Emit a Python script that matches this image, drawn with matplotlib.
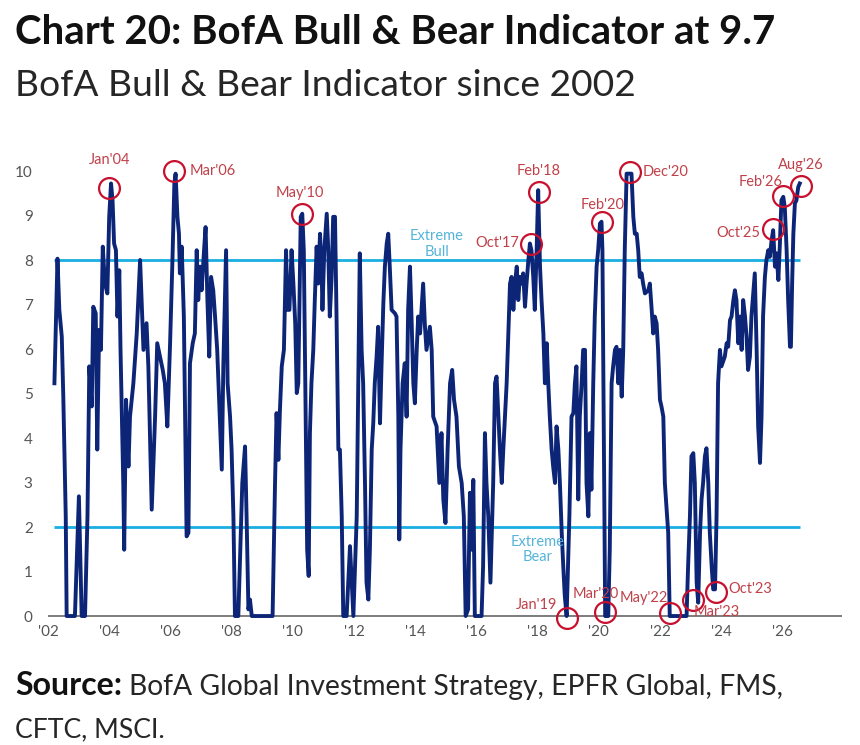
import matplotlib
matplotlib.use('Agg')
import matplotlib.pyplot as plt
from matplotlib import font_manager

# ---- data (decimal year, indicator value) ----
years = [
    2002.21, 2002.31, 2002.37, 2002.45, 2002.50, 2002.56, 2002.58, 2002.61, 2002.88, 2003.01,
    2003.10, 2003.21, 2003.29, 2003.35, 2003.43, 2003.48, 2003.56, 2003.61, 2003.67, 2003.73,
    2003.79, 2003.86, 2003.94, 2004.00, 2004.06, 2004.11, 2004.16, 2004.22, 2004.27, 2004.33,
    2004.37, 2004.46, 2004.49, 2004.55, 2004.63, 2004.68, 2004.79, 2004.90, 2005.01, 2005.06,
    2005.12, 2005.22, 2005.28, 2005.39, 2005.50, 2005.57, 2005.66, 2005.75, 2005.82, 2005.90,
    2005.99, 2006.07, 2006.13, 2006.17, 2006.23, 2006.28, 2006.31, 2006.37, 2006.44, 2006.53,
    2006.59, 2006.64, 2006.73, 2006.80, 2006.86, 2006.91, 2006.97, 2007.02, 2007.10, 2007.15,
    2007.21, 2007.27, 2007.33, 2007.40, 2007.46, 2007.53, 2007.62, 2007.68, 2007.73, 2007.82,
    2007.87, 2007.95, 2008.00, 2008.06, 2008.11, 2008.22, 2008.35, 2008.44, 2008.49, 2008.55,
    2008.60, 2008.66, 2009.34, 2009.42, 2009.47, 2009.53, 2009.58, 2009.64, 2009.71, 2009.78,
    2009.83, 2009.89, 2009.96, 2010.02, 2010.08, 2010.13, 2010.18, 2010.26, 2010.31, 2010.36,
    2010.42, 2010.47, 2010.52, 2010.56, 2010.61, 2010.67, 2010.72, 2010.78, 2010.83, 2010.89,
    2010.94, 2010.97, 2011.03, 2011.11, 2011.16, 2011.21, 2011.27, 2011.32, 2011.38, 2011.43,
    2011.49, 2011.54, 2011.60, 2011.65, 2011.76, 2011.87, 2011.98, 2012.09, 2012.19, 2012.25,
    2012.30, 2012.36, 2012.41, 2012.47, 2012.52, 2012.58, 2012.63, 2012.68, 2012.74, 2012.79,
    2012.85, 2012.90, 2012.96, 2013.01, 2013.07, 2013.12, 2013.17, 2013.23, 2013.34, 2013.39,
    2013.45, 2013.48, 2013.52, 2013.59, 2013.66, 2013.72, 2013.77, 2013.83, 2013.88, 2013.94,
    2013.99, 2014.05, 2014.10, 2014.16, 2014.26, 2014.32, 2014.37, 2014.48, 2014.54, 2014.59,
    2014.70, 2014.79, 2014.86, 2014.92, 2014.99, 2015.06, 2015.14, 2015.21, 2015.27, 2015.35,
    2015.43, 2015.52, 2015.59, 2015.65, 2015.73, 2015.79, 2015.84, 2015.90, 2015.95, 2016.17,
    2016.22, 2016.28, 2016.33, 2016.39, 2016.46, 2016.55, 2016.61, 2016.66, 2016.72, 2016.77,
    2016.83, 2016.88, 2016.99, 2017.10, 2017.15, 2017.21, 2017.26, 2017.32, 2017.37, 2017.42,
    2017.48, 2017.53, 2017.59, 2017.64, 2017.70, 2017.75, 2017.80, 2017.86, 2017.91, 2017.97,
    2018.02, 2018.08, 2018.13, 2018.19, 2018.24, 2018.30, 2018.35, 2018.40, 2018.46, 2018.51,
    2018.57, 2018.62, 2018.68, 2018.73, 2018.79, 2018.84, 2018.89, 2018.95, 2019.04, 2019.11,
    2019.17, 2019.22, 2019.27, 2019.33, 2019.38, 2019.44, 2019.49, 2019.55, 2019.60, 2019.66,
    2019.71, 2019.76, 2019.82, 2019.87, 2019.93, 2019.98, 2020.04, 2020.09, 2020.12, 2020.17,
    2020.21, 2020.31, 2020.36, 2020.42, 2020.47, 2020.53, 2020.58, 2020.64, 2020.69, 2020.75,
    2020.80, 2020.85, 2020.91, 2021.07, 2021.13, 2021.18, 2021.24, 2021.29, 2021.34, 2021.40,
    2021.45, 2021.51, 2021.62, 2021.67, 2021.73, 2021.78, 2021.83, 2021.89, 2021.94, 2022.00,
    2022.05, 2022.11, 2022.16, 2022.22, 2022.27, 2022.32, 2022.87, 2022.92, 2022.98, 2023.03,
    2023.09, 2023.14, 2023.20, 2023.25, 2023.31, 2023.36, 2023.41, 2023.47, 2023.52, 2023.58,
    2023.63, 2023.69, 2023.74, 2023.80, 2023.85, 2023.90, 2023.96, 2024.01, 2024.12, 2024.18,
    2024.23, 2024.29, 2024.34, 2024.40, 2024.45, 2024.50, 2024.56, 2024.61, 2024.67, 2024.72,
    2024.78, 2024.83, 2024.88, 2024.94, 2024.99, 2025.05, 2025.10, 2025.16, 2025.21, 2025.27,
    2025.32, 2025.37, 2025.43, 2025.48, 2025.54, 2025.59, 2025.65, 2025.70, 2025.76, 2025.81,
    2025.87, 2025.92, 2025.97, 2026.03, 2026.08, 2026.14, 2026.19, 2026.25, 2026.28, 2026.32,
    2026.36, 2026.41, 2026.46, 2026.52, 2026.57,
]
values = [
    5.23, 8.03, 6.88, 6.28, 4.93, 2.99, 2.24, 0.00, 0.00, 2.69,
    0.00, 0.00, 2.24, 5.61, 4.71, 6.95, 6.80, 3.74, 6.43, 5.98,
    8.30, 7.47, 7.25, 8.97, 9.72, 9.34, 8.37, 8.22, 6.73, 7.77,
    5.98, 2.99, 1.49, 4.86, 3.36, 4.48, 5.23, 6.35, 8.00, 7.10,
    5.98, 6.58, 5.61, 2.39, 4.48, 6.13, 5.83, 5.53, 5.23, 4.26,
    6.13, 8.07, 9.72, 9.94, 8.97, 8.59, 7.70, 8.30, 6.73, 1.79,
    1.87, 5.68, 6.13, 6.35, 8.22, 7.10, 7.85, 7.32, 8.22, 8.74,
    7.10, 5.83, 7.62, 7.32, 6.73, 5.98, 4.33, 3.29, 5.61, 8.22,
    5.23, 4.48, 3.74, 2.24, 0.00, 0.00, 2.99, 3.81, 2.24, 0.15,
    0.37, 0.00, 0.00, 2.99, 4.56, 3.51, 4.63, 5.61, 5.98, 8.22,
    6.88, 6.88, 8.22, 7.47, 6.58, 5.01, 5.23, 8.97, 9.04, 8.22,
    4.48, 1.49, 0.90, 4.11, 5.23, 5.98, 7.10, 8.30, 7.47, 8.59,
    7.85, 6.88, 8.22, 9.04, 8.22, 6.73, 7.62, 8.97, 8.97, 6.73,
    3.74, 3.74, 2.24, 0.00, 0.00, 1.57, 0.00, 2.24, 8.15, 5.98,
    5.23, 2.99, 0.75, 0.37, 1.49, 3.74, 4.33, 5.23, 5.83, 6.50,
    4.33, 5.61, 7.03, 7.85, 8.37, 8.59, 7.85, 6.88, 6.80, 6.73,
    4.48, 1.72, 3.74, 5.23, 5.68, 4.48, 6.88, 7.85, 6.73, 5.23,
    4.78, 5.98, 6.73, 6.35, 7.47, 6.50, 5.98, 6.50, 5.98, 4.48,
    4.26, 2.99, 4.11, 2.62, 2.09, 3.74, 5.23, 5.53, 4.86, 4.48,
    3.36, 2.99, 2.24, 0.00, 0.15, 2.77, 1.49, 3.06, 0.00, 0.00,
    1.12, 4.11, 2.99, 2.24, 0.75, 2.99, 5.23, 5.38, 4.48, 3.74,
    2.99, 3.74, 5.23, 7.47, 7.62, 6.88, 7.47, 7.85, 7.10, 7.62,
    7.47, 7.70, 6.95, 7.47, 8.00, 8.37, 8.22, 7.62, 6.88, 8.22,
    9.57, 7.85, 7.10, 6.35, 5.23, 6.13, 5.23, 4.48, 3.74, 3.36,
    2.99, 4.26, 3.74, 2.99, 1.87, 1.12, 0.45, 0.00, 2.24, 4.48,
    4.56, 5.23, 5.61, 2.62, 4.48, 5.23, 5.98, 5.98, 2.99, 2.24,
    4.11, 2.84, 5.23, 6.73, 7.85, 8.22, 8.82, 8.86, 8.22, 3.74,
    0.00, 0.00, 1.49, 5.23, 5.61, 5.98, 6.05, 5.23, 5.98, 4.93,
    5.98, 8.22, 9.94, 9.94, 8.97, 8.59, 8.59, 8.22, 7.62, 7.70,
    7.47, 7.25, 7.32, 7.47, 6.88, 6.35, 6.73, 6.58, 5.98, 4.86,
    4.71, 4.48, 2.99, 2.39, 1.87, 0.00, 0.00, 1.12, 2.24, 3.59,
    3.66, 2.99, 0.75, 0.30, 1.87, 2.62, 2.99, 3.59, 3.77, 2.99,
    1.87, 1.12, 0.60, 0.60, 2.24, 5.23, 5.98, 5.61, 5.83, 6.13,
    6.05, 6.65, 6.73, 7.10, 7.32, 7.10, 6.13, 6.73, 5.98, 7.10,
    6.73, 6.28, 5.53, 5.83, 6.73, 7.25, 7.70, 5.98, 4.26, 3.44,
    4.48, 6.73, 7.62, 8.00, 8.22, 8.07, 8.45, 8.67, 7.85, 8.15,
    7.55, 8.37, 9.34, 9.42, 9.19, 8.22, 7.10, 6.05, 6.05, 7.47,
    8.59, 9.27, 9.34, 9.64, 9.72,
]

# highlighted turning points
note_labels = ["Jan'04", "Mar'06", "May'10", "Oct'17", "Feb'18", "Jan'19", "Mar'20",
               "Feb'20", "Dec'20", "May'22", "Mar'23", "Oct'23", "Oct'25", "Feb'26", "Aug'26"]
note_years = [2004.00, 2006.12, 2010.29, 2017.77, 2018.05, 2018.97, 2020.22,
              2020.09, 2021.02, 2022.32, 2023.09, 2023.83, 2025.68, 2026.01, 2026.60]
note_values = [9.62, 10.0, 9.04, 8.35, 9.53, -0.04, 0.10,
               8.86, 9.97, 0.07, 0.37, 0.54, 8.69, 9.43, 9.66]

bull_level = 8
bear_level = 2
x_ticks = list(range(2002, 2027, 2))
x_labels = ["'%02d" % (y % 100) for y in x_ticks]
y_ticks = list(range(0, 11))

# label placement (offset in points, horizontal alignment)
note_offsets = [(0, 20, 'center'), (11, 0, 'left'), (-1, 15, 'center'), (-8, 1, 'right'),
                (0, 15, 'center'), (-7, 9, 'right'), (-7, 13, 'center'), (1, 12, 'center'),
                (9, 0, 'left'), (-19, 11, 'center'), (17, -9, 'center'), (9, 2, 'left'),
                (-9, -3, 'right'), (-16, 10, 'center'), (0, 15, 'center')]

NAVY = '#0c2577'
CYAN = '#1aaee3'
RED = '#c8102e'
LABEL_RED = '#c0414a'
TEXT_BLUE = '#55b4d8'

available = {f.name for f in font_manager.fontManager.ttflist}
main_font = 'Lato' if 'Lato' in available else 'Roboto'
plt.rcParams['font.family'] = [main_font, 'DejaVu Sans']

fig = plt.figure(figsize=(8.6, 7.45), dpi=100)
ax = fig.add_axes([48 / 860, 1 - 622.7 / 745, 794 / 860, 478.4 / 745])

ax.plot(years, values, color=NAVY, lw=2.8, solid_joinstyle='round', zorder=3)
ax.hlines([bull_level, bear_level], years[0], years[-1], color=CYAN, lw=2.0, zorder=2)
ax.axhline(0, color='#666666', lw=1.2, zorder=1)

ax.plot(note_years, note_values, 'o', ms=15, mfc='none', mec=RED, mew=1.6, zorder=4,
        clip_on=False)
for lab, xv, yv, (dx, dy, ha) in zip(note_labels, note_years, note_values, note_offsets):
    ax.annotate(lab, (xv, yv), xytext=(dx, dy), textcoords='offset points',
                ha=ha, va='center', color=LABEL_RED, fontsize=10.5, zorder=5)

ax.text(2014.71, 8.36, 'Extreme\nBull', ha='center', va='center', color=TEXT_BLUE,
        fontsize=10.5, linespacing=1.1)
ax.text(2018.0, 1.5, 'Extreme\nBear', ha='center', va='center', color=TEXT_BLUE,
        fontsize=10.5, linespacing=1.1)

ax.set_xlim(2002, 2027.95)
ax.set_ylim(-0.15, 10.6)
ax.set_xticks(x_ticks, x_labels)
ax.set_yticks(y_ticks)
ax.tick_params(length=0, labelsize=11, labelcolor='#555555')
ax.tick_params(axis='y', pad=11)
ax.tick_params(axis='x', pad=2)
for s in ax.spines.values():
    s.set_visible(False)

renderer = fig.canvas.get_renderer()


def fit_text(x, y, s, width_px, fs, **kw):
    """Place a figure text and scale its size so it spans width_px pixels."""
    t = fig.text(x / 860, 1 - y / 745, s, fontsize=fs, **kw)
    w = t.get_window_extent(renderer).width
    t.set_fontsize(fs * width_px / w)
    return t


fit_text(15, 44, 'Chart 20: BofA Bull & Bear Indicator at 9.7', 758, 28,
         fontweight='bold', color='#111111')
fit_text(15, 96, 'BofA Bull & Bear Indicator since 2002', 621, 28,
         fontweight='normal', color='#262626')

src = fit_text(15, 695, 'Source:', 107, 22, fontweight='bold', color='#111111')
x1 = src.get_window_extent(renderer).x1
fit_text(x1 + 7, 695, 'BofA Global Investment Strategy, EPFR Global, FMS,', 780 - x1 - 7, 22,
         fontweight='normal', color='#262626')
fit_text(15, 737, 'CFTC, MSCI.', 150, 22, fontweight='normal', color='#262626')

fig.savefig('out.png', dpi=100, facecolor='white')
